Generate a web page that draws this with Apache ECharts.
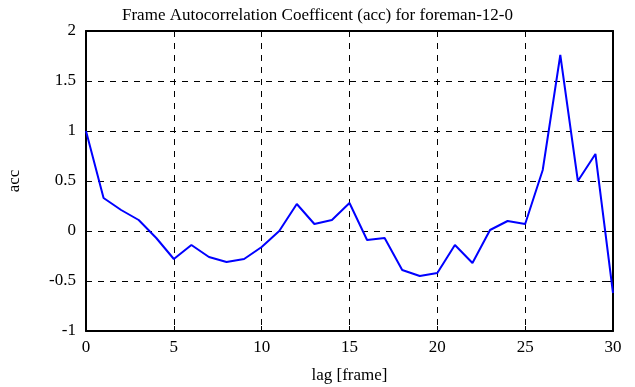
<!DOCTYPE html>
<html>
<head>
<meta charset="utf-8">
<script src="https://cdn.jsdelivr.net/npm/echarts@6/dist/echarts.min.js"></script>
<style>
  html, body { margin: 0; padding: 0; background: #fff; }
  #chart { width: 635px; height: 387px; }
</style>
</head>
<body>
<div id="chart"></div>
<script>
// lag values and autocorrelation
var lags = [0, 1, 2, 3, 4, 5, 6, 7, 8, 9, 10, 11, 12, 13, 14, 15, 16, 17, 18, 19, 20, 21, 22, 23, 24, 25, 26, 27, 28, 29, 30];
var accValues = [1.0, 0.33, 0.21, 0.11, -0.07, -0.28, -0.14, -0.26, -0.31, -0.28, -0.16, 0.0, 0.27, 0.07, 0.11, 0.28, -0.09, -0.07, -0.39, -0.45, -0.42, -0.14, -0.32, 0.01, 0.10, 0.07, 0.61, 1.76, 0.50, 0.77, -0.62];

var font = 'Liberation Serif, Times New Roman, serif';

var pts = [];
for (var i = 0; i < lags.length; i++) {
  pts.push([lags[i], accValues[i]]);
}

var chart = echarts.init(document.getElementById('chart'));

var axisLine = { show: true, onZero: false, lineStyle: { color: '#000', width: 2 } };
var tick = { show: true, inside: true, length: 5, lineStyle: { color: '#000', width: 1 } };
var grid = { show: true, lineStyle: { color: '#000', type: [6, 6], width: 1 } };

chart.setOption({
  animation: false,
  backgroundColor: '#fff',
  title: {
    text: 'Frame Autocorrelation Coefficent (acc) for foreman-12-0',
    left: 'center',
    top: 2,
    textStyle: { fontFamily: font, fontWeight: 'normal', fontSize: 17, color: '#000' }
  },
  grid: { left: 86, right: 22, top: 31, bottom: 56, outerBoundsMode: 'none' },
  xAxis: [
    {
      type: 'value', min: 0, max: 30, interval: 5,
      name: 'lag [frame]', nameLocation: 'middle', nameGap: 36,
      nameTextStyle: { fontFamily: font, fontSize: 17, color: '#000' },
      axisLine: axisLine, axisTick: tick, splitLine: grid,
      axisLabel: { fontFamily: font, fontSize: 17, color: '#000', margin: 8 }
    },
    {
      type: 'value', min: 0, max: 30, interval: 5, position: 'top',
      axisLine: axisLine, axisTick: tick, splitLine: { show: false },
      axisLabel: { show: false }
    }
  ],
  yAxis: [
    {
      type: 'value', min: -1, max: 2, interval: 0.5,
      name: 'acc', nameLocation: 'middle', nameGap: 63, nameRotate: 90,
      nameTextStyle: { fontFamily: font, fontSize: 17, color: '#000' },
      axisLine: axisLine, axisTick: tick, splitLine: grid,
      axisLabel: { fontFamily: font, fontSize: 17, color: '#000', margin: 10 }
    },
    {
      type: 'value', min: -1, max: 2, interval: 0.5, position: 'right',
      axisLine: axisLine, axisTick: tick, splitLine: { show: false },
      axisLabel: { show: false }
    }
  ],
  series: [
    {
      type: 'line',
      data: pts,
      showSymbol: false,
      lineStyle: { color: '#0000ff', width: 2 },
      itemStyle: { color: '#0000ff' }
    }
  ]
});
</script>
</body>
</html>
